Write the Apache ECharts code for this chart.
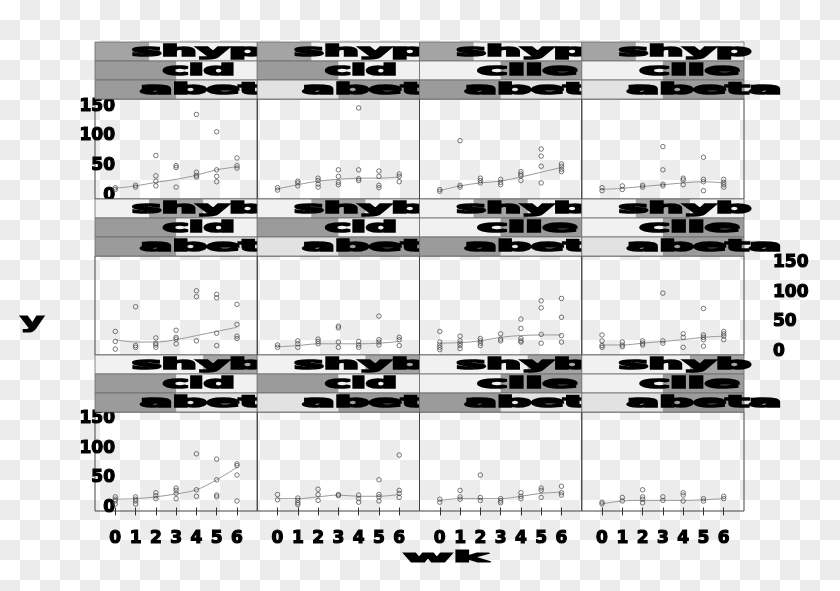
<!DOCTYPE html>
<html><head><meta charset="utf-8">
<script src="https://cdn.jsdelivr.net/npm/echarts@6/dist/echarts.min.js"></script>
<style>
html,body{margin:0;padding:0;width:840px;height:591px;overflow:hidden;
background: repeating-conic-gradient(#ececec 0 25%, #ffffff 0 50%) 0 0/40px 40px;}
#c{width:840px;height:591px;}
</style></head><body><div id="c"></div>
<script>
// ---- data ----
const xValues = [0, 1, 2, 3, 4, 5, 6];
const yTicks = [0, 50, 100, 150];
const stripA = ["shyp", "shyb", "shyb"];      // first strip text per row
const stripB = ["cid", "clie"];               // second strip text per level
const stripC = ["abeta", "abeta"];            // third strip text per level
const levelA = [0, 1, 2];                      // row -> level of first factor
const levelB = [0, 0, 1, 1];                   // column -> level of second factor
const levelC = [0, 1, 0, 1];                   // column -> level of third factor
const xTitle = "wk";
const yTitle = "y";

// points grouped by x (0..6) for each panel (row, column)
const p11 = [[13,10],[17,14],[67,33,24,16],[50,47,14],[136,39,34,31],[107,43,32,23],[63,50,46]];
const p12 = [[13,9],[24,21,16],[29,25,19,14],[43,32,22,18],[147,43,28,25],[41,32,17,13],[36,32,23]];
const p13 = [[10,7],[92,17,14],[29,25,21],[27,22,18],[40,36,33,25],[78,66,49,21],[53,49,44,40]];
const p14 = [[13,8],[16,10],[17,14],[82,43,19,16],[29,26,18],[64,27,23,8],[27,22,18,14]];
const p21 = [[34,17,4],[76,10,7],[23,14,11,7],[36,24,21,13],[103,93,18],[97,91,31,10],[80,46,26,22]];
const p22 = [[11,7],[18,13,7],[21,17,13],[43,40,16,7],[17,11,7],[60,20,16,11],[24,20,10]];
const p23 = [[34,16,11,7,3],[26,18,14,10,5],[22,18,14,10],[30,21,18],[55,39,22,18,16],[86,74,29,14],[90,58,27,16]];
const p24 = [[28,18,10,7],[16,11,8],[18,14,11],[99,18,14],[30,24,7],[73,28,24,20,9],[34,30,26,20]];
const p31 = [[18,14,11,6],[18,14,11,6],[25,20,15],[33,29,24,15],[91,30,19],[82,47,21,18],[74,71,55,11]];
const p32 = [[22,13],[16,12,8,5],[31,22,12],[22,20],[21,15,9],[47,22,18,11],[89,29,24,17]];
const p33 = [[14,9],[29,18,14],[55,17,12],[15,11,8],[25,19,15],[33,29,17],[36,25,21]];
const p34 = [[9,6],[17,11],[30,18,14,8],[18,12],[25,21,11],[15,11],[19,15]];

// smooth curve values at x = 0..6
const s11 = [12,16,22,27,34,43,48];
const s12 = [11,18,24,27,29,29,31];
const s13 = [8,16,21,24,31,39,47];
const s14 = [10,12,15,18,21,23,21];
const s21 = [20,16,16,20,27,34,41];
const s22 = [8,10,13,13,13,14,17];
const s23 = [14,15,18,24,27,28,28];
const s24 = [11,11,14,17,20,24,26];
const s31 = [14,15,18,23,30,47,68];
const s32 = [15,15,18,21,19,19,22];
const s33 = [12,15,15,15,19,24,26];
const s34 = [6,11,12,12,12,13,15];

const panels = [[p11,p12,p13,p14],[p21,p22,p23,p24],[p31,p32,p33,p34]];
const smooths = [[s11,s12,s13,s14],[s21,s22,s23,s24],[s31,s32,s33,s34]];

// ---- layout ----
const colW = 162.25;
const colLeft = c => 95 + c * colW;
const rowTop = [99, 256, 412];
const rowH = [100, 99, 99];
const stripH = 19;
const FONT = '"DejaVu Sans", sans-serif';

const grids = [], xAxes = [], yAxes = [], series = [], graphics = [];

for (let r = 0; r < 3; r++) {
  for (let c = 0; c < 4; c++) {
    const idx = r * 4 + c;
    const left = colLeft(c), top = rowTop[r];
    grids.push({left: left, top: top, width: colW, height: rowH[r], show: true,
      borderColor: '#444', borderWidth: 1, backgroundColor: 'transparent'});
    xAxes.push({gridIndex: idx, type: 'value', min: -1, max: 7, interval: 1,
      axisLine: {show: false}, splitLine: {show: false},
      axisTick: {show: r === 2, length: 8, customValues: xValues, lineStyle: {color: '#333', width: 1}},
      axisLabel: {show: r === 2, customValues: xValues, margin: 19, fontSize: 17, fontWeight: 'bold',
        color: '#000', textBorderColor: '#000', textBorderWidth: 1.2, fontFamily: FONT}});
    const yShow = (r !== 1 && c === 0) || (r === 1 && c === 3);
    yAxes.push({gridIndex: idx, type: 'value', min: -6, max: 162,
      position: r === 1 ? 'right' : 'left',
      axisLine: {show: false}, splitLine: {show: false},
      axisTick: {show: false},
      axisLabel: {show: yShow, customValues: yTicks, margin: r === 1 ? 29 : -20,
        fontSize: 17, fontWeight: 'bold', color: '#000', textBorderColor: '#000', textBorderWidth: 1.2,
        fontFamily: FONT}});
    const pts = [];
    panels[r][c].forEach((ys, i) => ys.forEach(v => pts.push([xValues[i], v])));
    series.push({type: 'line', xAxisIndex: idx, yAxisIndex: idx, smooth: 0.35, showSymbol: false,
      silent: true, lineStyle: {color: '#9a9a9a', width: 1},
      data: smooths[r][c].map((v, i) => [xValues[i], v]), z: 2});
    series.push({type: 'scatter', xAxisIndex: idx, yAxisIndex: idx, symbol: 'circle', symbolSize: 4.5,
      itemStyle: {color: 'rgba(0,0,0,0)', borderColor: '#444', borderWidth: 0.9},
      data: pts, z: 3});

    // strips
    const sTop = top - 3 * stripH;
    const strips = [
      {levels: 3, lvl: levelA[r], light: '#f1f1f1', dark: '#a4a4a4', text: stripA[r], dx: 37, sx: 3.3},
      {levels: 2, lvl: levelB[c], light: '#f1f1f1', dark: '#9b9b9b', text: stripB[levelB[c]],
        dx: levelB[c] ? 58 : 68, sx: levelB[c] ? 3.4 : 2.9},
      {levels: 2, lvl: levelC[c], light: '#e2e2e2', dark: '#9b9b9b', text: stripC[levelC[c]], dx: 45, sx: 3.2}
    ];
    strips.forEach((s, k) => {
      const y = sTop + k * stripH;
      graphics.push({type: 'rect', shape: {x: left, y: y, width: colW, height: stripH},
        style: {fill: s.light, stroke: null}, z: 1});
      const w = colW / s.levels;
      graphics.push({type: 'rect', shape: {x: left + s.lvl * w, y: y, width: w, height: stripH},
        style: {fill: s.dark, stroke: null}, z: 1});
      graphics.push({type: 'rect', shape: {x: left, y: y, width: colW, height: stripH},
        style: {fill: null, stroke: '#6a6a6a', lineWidth: 0.8}, z: 1});
      graphics.push({type: 'text', x: left + s.dx, y: y + stripH / 2 + 1, scaleX: s.sx, z: 1,
        style: {text: s.text, x: 0, y: 0, fill: '#000', stroke: '#000', lineWidth: 1.6,
          font: 'bold 15px ' + FONT, textAlign: 'left', textVerticalAlign: 'middle'}});
    });
  }
}

graphics.push({type: 'text', x: 403, y: 558, scaleX: 3.6, z: 1,
  style: {text: xTitle, x: 0, y: 0, fill: '#000', stroke: '#000', lineWidth: 1.2,
    font: 'bold 15px ' + FONT, textAlign: 'left', textVerticalAlign: 'middle'}});
graphics.push({type: 'text', x: 20, y: 322, scaleX: 1.7, z: 1,
  style: {text: yTitle, x: 0, y: 0, fill: '#000', stroke: '#000', lineWidth: 1.2,
    font: 'bold 22px ' + FONT, textAlign: 'left', textVerticalAlign: 'middle'}});

const chart = echarts.init(document.getElementById('c'), null, {renderer: 'canvas'});
chart.setOption({
  backgroundColor: 'transparent',
  animation: false,
  grid: grids, xAxis: xAxes, yAxis: yAxes, series: series,
  graphic: {elements: graphics}
});
</script></body></html>
